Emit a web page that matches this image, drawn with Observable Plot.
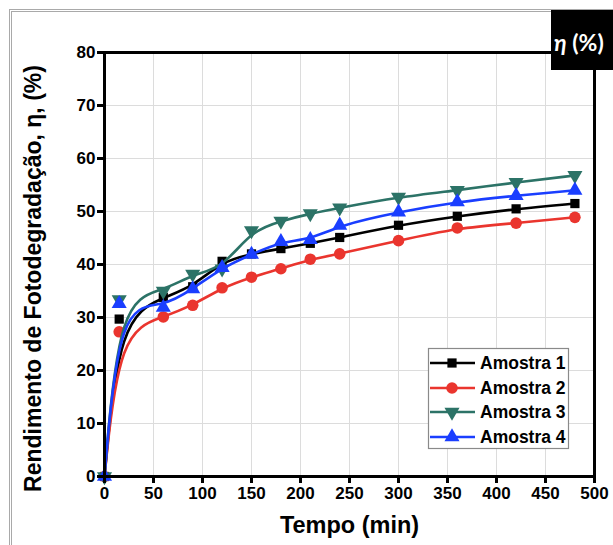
<!DOCTYPE html>
<html>
<head>
<meta charset="utf-8">
<script src="https://cdn.jsdelivr.net/npm/d3@7"></script>
<script src="https://cdn.jsdelivr.net/npm/@observablehq/plot@0.6"></script>
<style>
  html, body { margin: 0; padding: 0; background: #fff; }
  #wrap { position: relative; width: 613px; height: 545px; overflow: hidden; }
  #wrap > svg { position: absolute; left: 0; top: 0; }
  #outer { position: absolute; left: 9px; top: 9px; width: 700px; height: 700px;
           border-top: 3px double #a9a9a9; border-left: 3px double #a9a9a9; pointer-events: none; }
  #eta { position: absolute; left: 551px; top: 10px; width: 62px; height: 60px; background: #000;
         color: #fff; font-family: Lato, 'Open Sans', sans-serif; font-weight: bold; font-size: 23px;
         box-sizing: border-box; padding-top: 4px; padding-left: 3px; display: flex; align-items: center; white-space: nowrap; }
  #legend { position: absolute; left: 0; top: 0; pointer-events: none; }
</style>
</head>
<body>
<div id="wrap">
  <div id="outer"></div>
</div>
<script>
// ---- data ----
const times = [0, 15, 60, 90, 120, 150, 180, 210, 240, 300, 360, 420, 480];
const amostra1 = [0, 29.7, 33.8, 35.8, 40.6, 42.0, 43.0, 44.0, 45.1, 47.4, 49.1, 50.5, 51.5];
const amostra2 = [0, 27.3, 30.1, 32.3, 35.6, 37.6, 39.2, 41.0, 42.0, 44.5, 46.9, 47.8, 48.9];
const amostra3 = [0, 33.4, 35.0, 38.2, 39.2, 46.4, 48.2, 49.6, 50.7, 52.7, 54.0, 55.5, 56.8];
const amostra4 = [0, 32.6, 31.9, 35.4, 39.4, 41.9, 44.3, 44.7, 47.4, 49.9, 51.8, 53.0, 54.0];
const seriesNames = ["Amostra 1", "Amostra 2", "Amostra 3", "Amostra 4"];
const seriesColors = ["#000000", "#ea352e", "#2c7367", "#1a3eff"];
const xTicks = [0, 50, 100, 150, 200, 250, 300, 350, 400, 450, 500];
const yTicks = [0, 10, 20, 30, 40, 50, 60, 70, 80];
const xTitle = "Tempo (min)";
const yTitle = "Rendimento de Fotodegradação, η, (%)";

const values = [amostra1, amostra2, amostra3, amostra4];
const rows = seriesNames.flatMap((name, i) => times.map((t, j) => ({series: name, t, v: values[i][j]})));

const triangleDown = {
  draw(ctx, size) {
    const y = -Math.sqrt(size / (Math.sqrt(3) * 3));
    ctx.moveTo(0, -y * 2);
    ctx.lineTo(-Math.sqrt(3) * y, y);
    ctx.lineTo(Math.sqrt(3) * y, y);
    ctx.closePath();
  }
};
const symbols = ["square", "circle", triangleDown, "triangle"];
const radii = [5.2, 5.8, 5.6, 5.6];

const seriesMarks = seriesNames.flatMap((name, i) => {
  const d = rows.filter(r => r.series === name);
  return [
    Plot.line(d, {x: "t", y: "v", stroke: seriesColors[i], strokeWidth: 2.6, curve: "basis"}),
    Plot.dot(d, {x: "t", y: "v", fill: seriesColors[i], stroke: "none", symbol: symbols[i], r: radii[i]})
  ];
});

const chart = Plot.plot({
  width: 613,
  height: 545,
  marginLeft: 104,
  marginRight: 19,
  marginTop: 52,
  marginBottom: 69,
  x: {domain: [0, 500]},
  y: {domain: [0, 80]},
  style: {fontFamily: "'Liberation Sans', Arial, sans-serif", fontWeight: "bold", color: "#000", background: "transparent", overflow: "visible"},
  marks: [
    Plot.gridX(xTicks, {stroke: "#dcdcdc", strokeOpacity: 1, strokeWidth: 1}),
    Plot.gridY(yTicks, {stroke: "#dcdcdc", strokeOpacity: 1, strokeWidth: 1}),
    ...seriesMarks,
    Plot.frame({stroke: "#000", strokeWidth: 3}),
    Plot.axisX(xTicks, {tickSize: 7, strokeWidth: 3, tickPadding: 3, fontSize: 17, label: null, tickFormat: d => String(d)}),
    Plot.axisY(yTicks, {tickSize: 7, strokeWidth: 3, tickPadding: 2, fontSize: 17, label: null, tickFormat: d => String(d)}),
    Plot.text([xTitle], {frameAnchor: "bottom", dy: 49, lineAnchor: "middle", fontSize: 23.5, fontWeight: "bold"}),
    Plot.text([yTitle], {frameAnchor: "left", dx: -71, dy: 14, rotate: -90, lineAnchor: "middle", textAnchor: "middle", fontSize: 23, fontWeight: "bold"})
  ]
});
document.getElementById("wrap").appendChild(chart);

// eta badge
const eta = document.createElement("div");
eta.id = "eta";
eta.innerHTML = "<span><i>η</i> (%)</span>";
document.getElementById("wrap").appendChild(eta);

// legend
const lg = d3.select("#wrap").append("svg").attr("id", "legend").attr("width", 613).attr("height", 545);
const L = {x: 428, y: 348, w: 140, h: 100};
lg.append("rect").attr("x", L.x + 0.5).attr("y", L.y + 0.5).attr("width", L.w).attr("height", L.h)
  .attr("fill", "#fff").attr("stroke", "#8a8a8a").attr("stroke-width", 1.2);
const rowY = [15, 40, 64, 89];
seriesNames.forEach((name, i) => {
  const cy = L.y + rowY[i];
  lg.append("line").attr("x1", L.x + 2).attr("x2", L.x + 47).attr("y1", cy).attr("y2", cy)
    .attr("stroke", seriesColors[i]).attr("stroke-width", 2.6);
  const type = typeof symbols[i] === "string"
    ? {square: d3.symbolSquare, circle: d3.symbolCircle, triangle: d3.symbolTriangle}[symbols[i]]
    : symbols[i];
  lg.append("path").attr("d", d3.symbol(type, Math.PI * radii[i] * radii[i])())
    .attr("transform", `translate(${L.x + 24},${cy})`).attr("fill", seriesColors[i]);
  lg.append("text").attr("x", L.x + 52).attr("y", cy).attr("dy", "0.36em")
    .attr("font-family", "'Liberation Sans', Arial, sans-serif").attr("font-weight", "bold")
    .attr("font-size", 17.5).attr("fill", "#000").text(name);
});
</script>
</body>
</html>
